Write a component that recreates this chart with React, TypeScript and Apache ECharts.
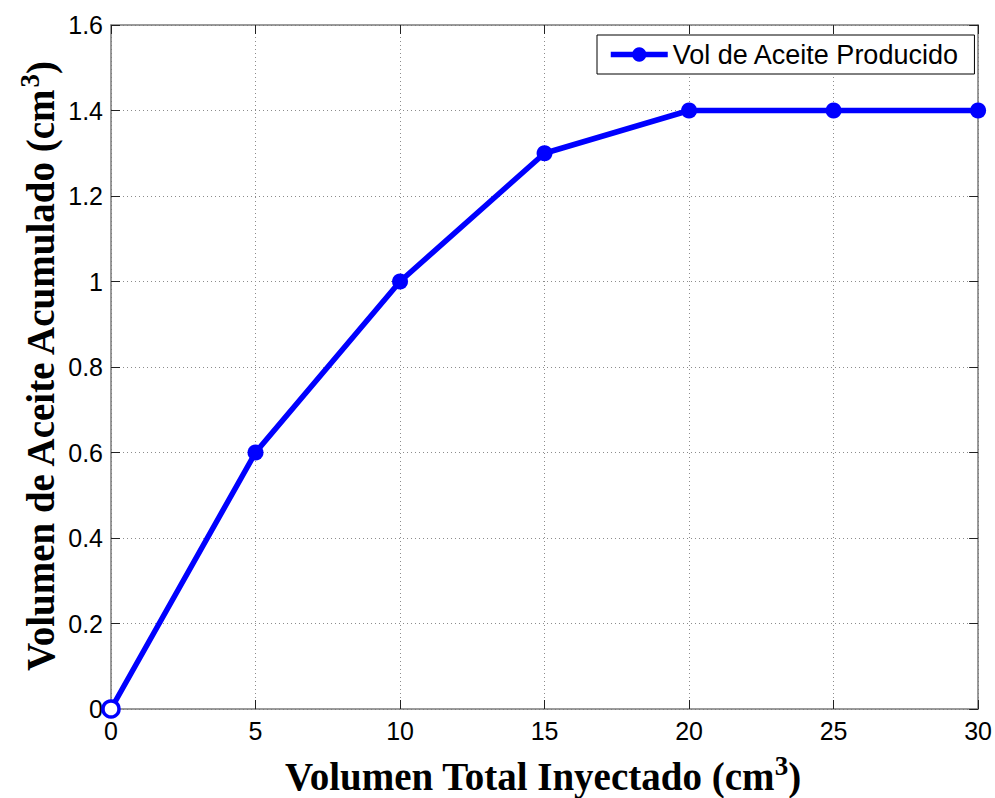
import React, { useEffect, useRef } from "react";
import * as echarts from "echarts";

const xValues = [0, 5, 10, 15, 20, 25, 30];
const yValues = [0, 0.6, 1.0, 1.3, 1.4, 1.4, 1.4];
const seriesName = "Vol de Aceite Producido";
const xTitle = "Volumen Total Inyectado (cm";
const yTitle = "Volumen de Aceite Acumulado (cm";

export default function App() {
  const ref = useRef<HTMLDivElement>(null);
  useEffect(() => {
    if (!ref.current) return;
    const chart = echarts.init(ref.current, null, { renderer: "svg" });
    const blue = "#0000ff";
    const axisColor = "#7a7a7a";
    const tickLabel = { color: "#000", fontFamily: "Liberation Sans", fontSize: 25 };
    const data = xValues.map((x, i) =>
      i === 0
        ? { value: [x, yValues[i]], itemStyle: { color: "#fff", borderColor: blue, borderWidth: 3.5 } }
        : { value: [x, yValues[i]] }
    );
    const titleRich = {
      t: { fontFamily: "Liberation Serif", fontWeight: "bold", fontSize: 39, color: "#000" },
      s: { fontFamily: "Liberation Serif", fontWeight: "bold", fontSize: 27, color: "#000", verticalAlign: "top", padding: [0, 0, 20, 0] },
    } as any;
    chart.setOption({
      animation: false,
      backgroundColor: "#fff",
      grid: { left: 111, top: 25, right: 15, bottom: 89, containLabel: false },
      legend: {
        left: 597,
        top: 35,
        data: [seriesName],
        backgroundColor: "#fff",
        borderColor: "#000",
        borderWidth: 1,
        borderRadius: 0,
        padding: [6, 15, 6, 11],
        itemWidth: 57,
        itemHeight: 18,
        itemGap: 0,
        lineStyle: { width: 5.5 },
        textStyle: { color: "#000", fontFamily: "Liberation Sans", fontSize: 27 },
      },
      xAxis: [
        {
          type: "value",
          min: 0,
          max: 30,
          interval: 5,
          axisLine: { show: true, onZero: false, lineStyle: { color: axisColor, width: 1.5 } },
          axisTick: { show: true, inside: true, length: 9, lineStyle: { color: "#222" } },
          axisLabel: { ...tickLabel, margin: 9 },
          splitLine: { show: true, lineStyle: { color: "#8c8c8c", type: [1, 3], width: 1 } },
        },
        {
          type: "value",
          position: "top",
          min: 0,
          max: 30,
          interval: 5,
          axisLine: { show: true, onZero: false, lineStyle: { color: axisColor, width: 1.5 } },
          axisTick: { show: true, inside: true, length: 9, lineStyle: { color: "#222" } },
          axisLabel: { show: false },
          splitLine: { show: false },
        },
      ],
      yAxis: [
        {
          type: "value",
          min: 0,
          max: 1.6,
          interval: 0.2,
          axisLine: { show: true, onZero: false, lineStyle: { color: axisColor, width: 1.5 } },
          axisTick: { show: true, inside: true, length: 9, lineStyle: { color: "#222" } },
          axisLabel: { ...tickLabel, margin: 8, formatter: (v: number) => String(Number(v.toFixed(1))) },
          splitLine: { show: true, lineStyle: { color: "#8c8c8c", type: [1, 3], width: 1 } },
        },
        {
          type: "value",
          position: "right",
          min: 0,
          max: 1.6,
          interval: 0.2,
          axisLine: { show: true, onZero: false, lineStyle: { color: axisColor, width: 1.5 } },
          axisTick: { show: true, inside: true, length: 9, lineStyle: { color: "#222" } },
          axisLabel: { show: false },
          splitLine: { show: false },
        },
      ],
      graphic: [
        {
          type: "text",
          x: 543,
          y: 776,
          style: {
            text: "{t|" + xTitle + "}{s|3}{t|)}",
            rich: titleRich,
            align: "center",
            verticalAlign: "middle",
          },
        },
        {
          type: "text",
          x: 40,
          y: 367,
          rotation: Math.PI / 2,
          style: {
            text: "{t|" + yTitle + "}{s|3}{t|)}",
            rich: titleRich,
            align: "center",
            verticalAlign: "middle",
          },
        },
      ],
      series: [
        {
          name: seriesName,
          type: "line",
          data,
          symbol: "circle",
          symbolSize: 16,
          showSymbol: true,
          clip: false,
          lineStyle: { color: blue, width: 5.5 },
          itemStyle: { color: blue },
        },
      ],
    });
    return () => chart.dispose();
  }, []);
  return <div ref={ref} style={{ position: "fixed", left: 0, top: 0, width: 995, height: 798 }} />;
}
